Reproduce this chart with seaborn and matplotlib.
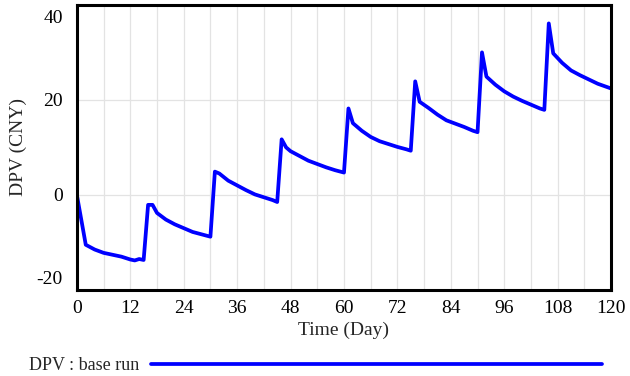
import matplotlib
matplotlib.use("Agg")
import matplotlib.pyplot as plt
import matplotlib.transforms as mtransforms
import pandas as pd
import seaborn as sns

# values
days = [0, 2, 4, 6, 8, 10, 12, 13, 14, 15,
        16, 17, 18, 20, 22, 24, 26, 28, 30,
        31, 32, 34, 36, 38, 40, 42, 44, 45,
        46, 47, 48, 50, 52, 54, 56, 58, 60,
        61, 62, 64, 66, 68, 70, 72, 74, 75,
        76, 77, 79, 81, 83, 85, 87, 89, 90,
        91, 92, 94, 96, 98, 100, 102, 104, 105,
        106, 107, 109, 111, 113, 115, 117, 120]
dpv = [0, -10.5, -11.5, -12.2, -12.6, -13.0, -13.6, -13.8, -13.5, -13.7,
       -2.1, -2.1, -3.8, -5.2, -6.2, -7.0, -7.8, -8.3, -8.8,
       4.9, 4.5, 3.0, 2.0, 1.0, 0.1, -0.5, -1.1, -1.5,
       11.7, 10.0, 9.2, 8.2, 7.2, 6.5, 5.8, 5.2, 4.7,
       18.2, 15.1, 13.5, 12.2, 11.3, 10.7, 10.1, 9.6, 9.3,
       23.9, 19.6, 18.3, 16.9, 15.7, 15.0, 14.3, 13.5, 13.2,
       30.0, 24.9, 23.2, 21.8, 20.7, 19.8, 19.0, 18.2, 17.9,
       36.1, 29.8, 27.8, 26.2, 25.2, 24.3, 23.4, 22.4]
x_ticks = [0, 12, 24, 36, 48, 60, 72, 84, 96, 108, 120]
y_ticks = [-20, 0, 20, 40]
series_label = "DPV : base run"

df = pd.DataFrame({"Time": days, "DPV": dpv})

sns.set_style("whitegrid")
plt.rcParams["font.family"] = ["Liberation Serif", "DejaVu Serif"]
plt.rcParams["axes.unicode_minus"] = False

fig = plt.figure(figsize=(6.3, 3.76), dpi=100)
ax = fig.add_axes([0.122, 0.229, 0.848, 0.758])

sns.lineplot(data=df, x="Time", y="DPV", ax=ax, color="#0000ff",
             linewidth=2.7, label=series_label, legend=False)

ax.set_xlim(0, 120)
ax.set_ylim(-20, 40)
ax.set_xticks(x_ticks)
ax.set_xticks(range(0, 121, 6), minor=True)
ax.set_yticks(y_ticks)
ax.grid(True, which="both", color="#e3e3e3", linewidth=0.9)
ax.tick_params(which="both", length=0, labelsize=14, colors="black")
ax.tick_params(axis="x", pad=7)
ax.tick_params(axis="y", pad=10)
for side in ax.spines.values():
    side.set_color("black")
    side.set_linewidth(2.2)

ax.set_xlabel("Time (Day)", fontsize=14, labelpad=4)
ax.set_ylabel("DPV (CNY)", fontsize=14, labelpad=7)

handles, labels = ax.get_legend_handles_labels()
fig.legend(handles, labels, loc="center left", bbox_to_anchor=(0.046, 0.027),
           frameon=False, markerfirst=False, handlelength=25.0,
           handletextpad=0.65, borderpad=0, borderaxespad=0, fontsize=13)

# Vensim-style: end labels of the y axis pulled inside the frame
fig.canvas.draw()
ylabels = ax.get_yticklabels()
ylabels[0].set_transform(ylabels[0].get_transform() +
                         mtransforms.ScaledTranslation(0, 12 / 100, fig.dpi_scale_trans))
ylabels[-1].set_transform(ylabels[-1].get_transform() +
                          mtransforms.ScaledTranslation(0, -12 / 100, fig.dpi_scale_trans))

fig.savefig("out.png", dpi=100)
